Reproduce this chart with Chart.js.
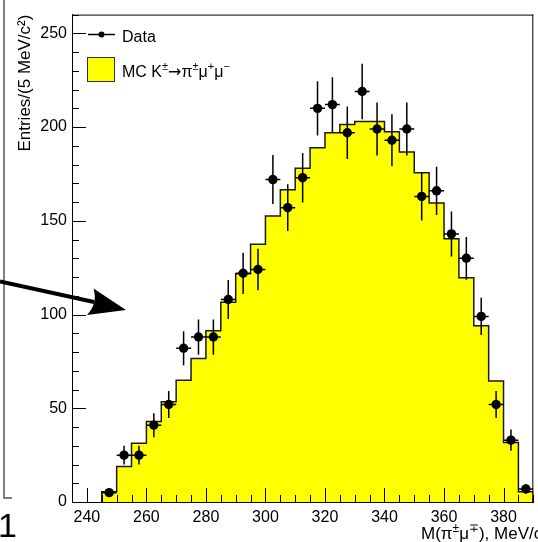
<!DOCTYPE html>
<html>
<head>
<meta charset="utf-8">
<script src="https://cdn.jsdelivr.net/npm/chart.js"></script>
<style>
  html, body { margin: 0; padding: 0; background: #fff; }
  #wrap { width: 538px; height: 542px; }
</style>
</head>
<body>
<div id="wrap"><canvas id="massChart" width="538" height="542"></canvas></div>
<script>
// invariant mass bins, MeV/c^2 (5 MeV wide)
const binCenters = [247.5, 252.5, 257.5, 262.5, 267.5, 272.5, 277.5, 282.5, 287.5, 292.5,
                    297.5, 302.5, 307.5, 312.5, 317.5, 322.5, 327.5, 332.5, 337.5, 342.5,
                    347.5, 352.5, 357.5, 362.5, 367.5, 372.5, 377.5, 382.5, 387.5];
const binWidth = 5;

// MC K -> pi mu mu histogram
const mcCounts = [5.5, 19, 31.3, 43, 53.5, 65, 76.5, 91.4, 106.5, 121.8,
                  137.5, 152.5, 166.6, 178, 189, 197, 201.4, 203, 203, 197.5,
                  186.7, 175.6, 159.5, 140.4, 119.6, 94, 64.5, 31.8, 5.5];

// data points and their vertical errors
const dataCounts = [5, 25, 25, 41, 52, 82, 88, 88, 108, 122,
                    124, 172, 157, 173, 210, 212, 197, 219, 199, 193,
                    199, 163, 166, 143, 130, 99, 52, 33, 7];
const dataErrors = [2.2, 5, 5, 6.4, 7.2, 9.1, 9.4, 9.4, 10.4, 11,
                    11.1, 13.1, 12.5, 13.2, 14.5, 14.6, 14, 14.8, 14.1, 13.9,
                    14.1, 12.8, 12.9, 12, 11.4, 9.9, 7.2, 5.7, 2.6];

const xTicks = [240, 260, 280, 300, 320, 340, 360, 380];
const yTicks = [0, 50, 100, 150, 200, 250];

const FONT = '"Liberation Sans", Arial, Helvetica, sans-serif';

// step outline for the MC histogram (left bin edges)
const last = binCenters.length - 1;
const mcStep = [{ x: binCenters[0] - binWidth / 2, y: 0 }];
binCenters.forEach((c, i) => mcStep.push({ x: c - binWidth / 2, y: mcCounts[i] }));
mcStep.push({ x: binCenters[last] + binWidth / 2, y: 0 });

const dataPoints = binCenters.map((c, i) => ({ x: c, y: dataCounts[i] }));

// text with superscripts, parts = [[text, isSup, fontOverride], ...]
function drawRich(ctx, parts, x, y, size) {
  let cx = x;
  parts.forEach(([txt, sup, fam]) => {
    const s = sup ? Math.round(size * 0.7) : size;
    ctx.font = s + 'px ' + (fam || FONT);
    ctx.fillText(txt, cx, sup ? y - size * 0.4 : y);
    cx += ctx.measureText(txt).width;
  });
}

const errorBars = {
  id: 'errorBars',
  beforeDatasetDraw(chart, args) {
    if (args.index !== 1) return;
    const { ctx, scales: { x, y } } = chart;
    ctx.save();
    ctx.strokeStyle = '#000';
    ctx.lineWidth = 1.5;
    ctx.beginPath();
    binCenters.forEach((c, i) => {
      const px = x.getPixelForValue(c);
      const py = y.getPixelForValue(dataCounts[i]);
      ctx.moveTo(px, y.getPixelForValue(dataCounts[i] - dataErrors[i]));
      ctx.lineTo(px, y.getPixelForValue(dataCounts[i] + dataErrors[i]));
      ctx.moveTo(x.getPixelForValue(c - binWidth / 2), py);
      ctx.lineTo(x.getPixelForValue(c + binWidth / 2), py);
    });
    ctx.stroke();
    ctx.restore();
  }
};

const decorations = {
  id: 'decorations',
  afterDraw(chart) {
    const { ctx, chartArea: a, scales: { x, y } } = chart;
    ctx.save();

    // frame + inward ticks (ROOT style)
    ctx.strokeStyle = '#000';
    ctx.lineWidth = 1;
    ctx.beginPath();
    ctx.moveTo(a.left, a.top + 0.5);
    ctx.lineTo(a.right, a.top + 0.5);
    ctx.moveTo(a.right - 0.5, a.top);
    ctx.lineTo(a.right - 0.5, a.bottom);
    for (let v = 235; v <= 390; v += 5) {
      const px = Math.round(x.getPixelForValue(v)) + 0.5;
      const len = v % 20 === 0 ? 14 : 7;
      ctx.moveTo(px, a.bottom);
      ctx.lineTo(px, a.bottom - len);
    }
    for (let v = 0; v <= 260; v += 10) {
      const py = Math.round(y.getPixelForValue(v)) + 0.5;
      const len = v % 50 === 0 ? 14 : 7;
      ctx.moveTo(a.left, py);
      ctx.lineTo(a.left + len, py);
    }
    ctx.stroke();

    // legend
    ctx.fillStyle = '#000';
    ctx.lineWidth = 1.5;
    ctx.beginPath();
    ctx.moveTo(88, 34.5);
    ctx.lineTo(115, 34.5);
    ctx.stroke();
    ctx.beginPath();
    ctx.arc(101.5, 34.5, 3, 0, Math.PI * 2);
    ctx.fill();
    ctx.fillStyle = '#ffff00';
    ctx.fillRect(88, 57.5, 27, 24);
    ctx.lineWidth = 1;
    ctx.strokeStyle = '#333';
    ctx.strokeRect(87.5, 57.5, 27, 24);
    ctx.fillStyle = '#000';
    ctx.textBaseline = 'alphabetic';
    ctx.textAlign = 'left';
    ctx.font = '16px ' + FONT;
    ctx.fillText('Data', 122, 42);
    drawRich(ctx, [['MC K', 0], ['\u00b1', 1], ['\u2192', 0, '"DejaVu Sans", sans-serif'], ['\u03c0', 0], ['\u00b1', 1],
                   ['\u03bc', 0], ['+', 1], ['\u03bc', 0], ['\u2212', 1]], 122, 76.5, 16);

    // x axis title, right part falls off the canvas as in the original
    drawRich(ctx, [['M(\u03c0', 0], ['\u00b1', 1], ['\u03bc', 0], ['\u2213', 1],
                   ['), MeV/c', 0], ['2', 1]], 421, 539, 17);

    // neighbouring panel remnants and the arrow
    ctx.strokeStyle = '#555';
    ctx.lineWidth = 1.5;
    ctx.beginPath();
    ctx.moveTo(4, 0);
    ctx.lineTo(4, 498);
    ctx.lineTo(12, 498);
    ctx.stroke();
    ctx.font = '34px ' + FONT;
    ctx.fillText('1', -2, 537);

    ctx.strokeStyle = '#000';
    ctx.lineWidth = 4;
    ctx.beginPath();
    ctx.moveTo(0, 281.5);
    ctx.lineTo(94, 302);
    ctx.stroke();
    ctx.beginPath();
    ctx.moveTo(126, 310);
    ctx.lineTo(93.5, 288.5);
    ctx.quadraticCurveTo(98, 303, 87, 315);
    ctx.closePath();
    ctx.fill();

    ctx.restore();
  }
};

const ctx = document.getElementById('massChart').getContext('2d');

new Chart(ctx, {
  type: 'scatter',
  data: {
    datasets: [
      {
        type: 'line',
        label: 'MC',
        data: mcStep,
        stepped: 'before',
        fill: 'origin',
        backgroundColor: '#ffff00',
        borderColor: '#1a1a1a',
        borderWidth: 1.5,
        pointRadius: 0,
        order: 1
      },
      {
        label: 'Data',
        data: dataPoints,
        pointRadius: 4.7,
        pointBackgroundColor: '#000',
        pointBorderWidth: 0,
        order: 0
      }
    ]
  },
  options: {
    responsive: false,
    animation: false,
    events: [],
    layout: { padding: { left: 0, right: 1, top: 11, bottom: 0 } },
    plugins: {
      legend: { display: false },
      tooltip: { enabled: false }
    },
    scales: {
      x: {
        type: 'linear',
        min: 235,
        max: 390,
        afterBuildTicks: (s) => { s.ticks = xTicks.map(v => ({ value: v })); },
        afterFit: (s) => { s.height = 40; },
        grid: { display: false, drawTicks: false },
        border: { display: true, color: '#000', width: 1 },
        ticks: { padding: 6, color: '#000', font: { family: FONT, size: 16 } }
      },
      y: {
        min: 0,
        max: 260,
        afterBuildTicks: (s) => { s.ticks = yTicks.map(v => ({ value: v })); },
        afterFit: (s) => { s.width = 72; },
        grid: { display: false, drawTicks: false },
        border: { display: true, color: '#000', width: 1 },
        ticks: { padding: 5, color: '#000', font: { family: FONT, size: 16 } },
        title: {
          display: true,
          text: 'Entries/(5 MeV/c\u00b2)',
          align: 'end',
          color: '#000',
          font: { family: FONT, size: 17 },
          padding: { top: 15, bottom: 0 }
        }
      }
    }
  },
  plugins: [errorBars, decorations]
});
</script>
</body>
</html>
